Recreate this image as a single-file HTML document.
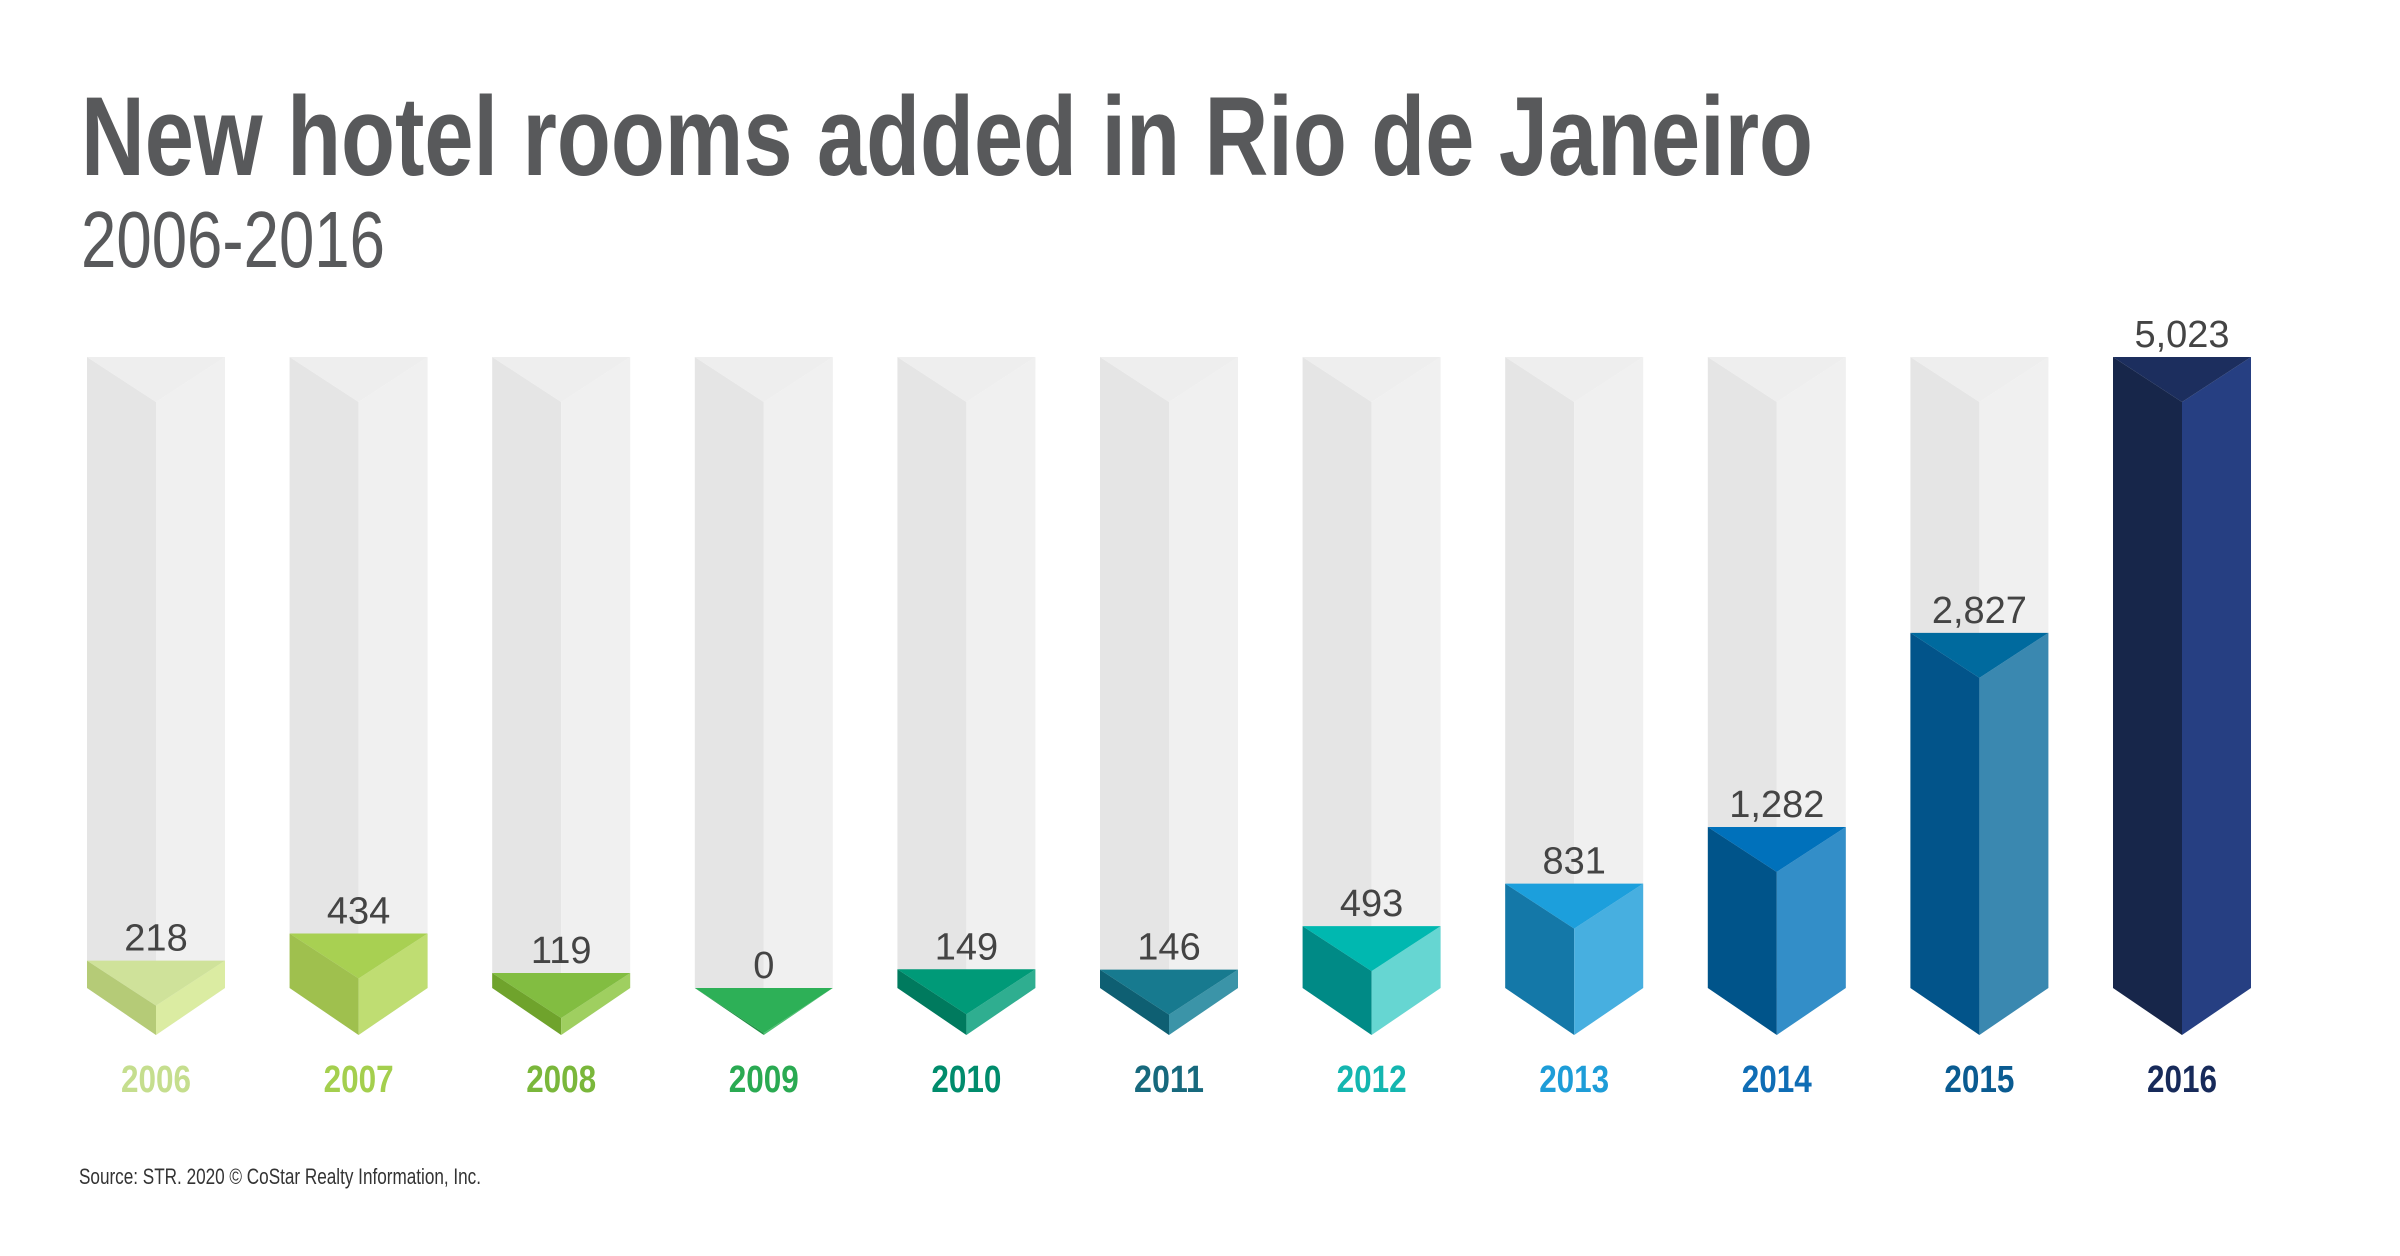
<!DOCTYPE html>
<html><head><meta charset="utf-8"><style>
html,body{margin:0;padding:0;background:#fff;}
svg{display:block;}
text{font-family:"Liberation Sans Narrow","Liberation Sans",sans-serif;}
</style></head><body>
<svg id="chart" width="2400" height="1256" viewBox="0 0 2400 1256" xmlns="http://www.w3.org/2000/svg">
<text x="81" y="175" font-size="112" font-weight="bold" fill="#58595b" textLength="1732" lengthAdjust="spacingAndGlyphs">New hotel rooms added in Rio de Janeiro</text>
<text x="81" y="267" font-size="80" fill="#58595b" textLength="304" lengthAdjust="spacingAndGlyphs">2006-2016</text>
<g id="bars"></g>
<text x="79" y="1184" font-size="22" fill="#333" textLength="402" lengthAdjust="spacingAndGlyphs">Source: STR. 2020 © CoStar Realty Information, Inc.</text>
</svg>
<script>
const years = ["2006","2007","2008","2009","2010","2011","2012","2013","2014","2015","2016"];
const rooms = [218,434,119,0,149,146,493,831,1282,2827,5023];
const valueLabels = ["218","434","119","0","149","146","493","831","1,282","2,827","5,023"];
const topColors = ["#cfe29a","#a8d052","#82bd41","#2db057","#009a78","#177a8f","#00b8b0","#1c9fdc","#0071bb","#006a9e","#1c2e5e"];
const leftColors = ["#b5cb77","#9fc04e","#6fa32c","#1f8f44","#007a5e","#0e5f72","#008a86","#1478a8","#00548a","#02548a","#17264a"];
const rightColors = ["#dbeca2","#bfdd72","#9fcf60","#4cc070","#2fae90","#3b94a8","#66d6d2","#47afe0","#338ec8","#3a88b0","#263f82"];
const labelColors = ["#c5de8e","#a4cf4e","#7ab73b","#2aaa52","#008c6c","#17697d","#14b6b0","#1e9dd8","#0f6db5","#0a5b91","#172a5a"];
const maxVal = 5023;

const ns = "http://www.w3.org/2000/svg";
const g = document.getElementById("bars");
const yTop = 357, yBase = 988, yTip = 1035, depth = 45, halfW = 69;
function xCenter(i){ return 156 + 202.6*i; }
function yScale(v){ return yBase - v/maxVal*(yBase - yTop); }
function poly(pts, fill, name){
  const p = document.createElementNS(ns,"polygon");
  p.setAttribute("points", pts.map(a=>a.join(",")).join(" "));
  p.setAttribute("fill", fill);
  
  
  g.appendChild(p);
}
function prism(i, v, cl, cr, ct, prefix){
  const C = xCenter(i), L = C-halfW, R = C+halfW, yt = yScale(v);
  const yc = Math.min(yt+depth, yTip);
  poly([[L,yt],[C,yc],[C,yTip],[L,yBase]], cl, prefix+"-left-face");
  poly([[C,yc],[R,yt],[R,yBase],[C,yTip]], cr, prefix+"-right-face");
  poly([[L,yt],[R,yt],[C,yc]], ct, prefix+"-top-face");
}
years.forEach((yr,i)=>{
  prism(i, maxVal, "#e5e5e5", "#f0f0f0", "#eeeeee", "track-"+yr);
  prism(i, rooms[i], leftColors[i], rightColors[i], topColors[i], "bar-"+yr);
  const t = document.createElementNS(ns,"text");
  t.setAttribute("x", xCenter(i)); t.setAttribute("y", yScale(rooms[i]) - 10);
  t.setAttribute("text-anchor","middle"); t.setAttribute("font-size","38"); t.setAttribute("fill","#444");
  
  
  t.textContent = valueLabels[i];
  g.appendChild(t);
  const y = document.createElementNS(ns,"text");
  y.setAttribute("x", xCenter(i)); y.setAttribute("y", 1092);
  y.setAttribute("text-anchor","middle"); y.setAttribute("font-size","38"); y.setAttribute("font-weight","bold");
  y.setAttribute("fill", labelColors[i]);
  y.setAttribute("textLength","70"); y.setAttribute("lengthAdjust","spacingAndGlyphs");
  
  
  y.textContent = yr;
  g.appendChild(y);
});
</script>
</body></html>
